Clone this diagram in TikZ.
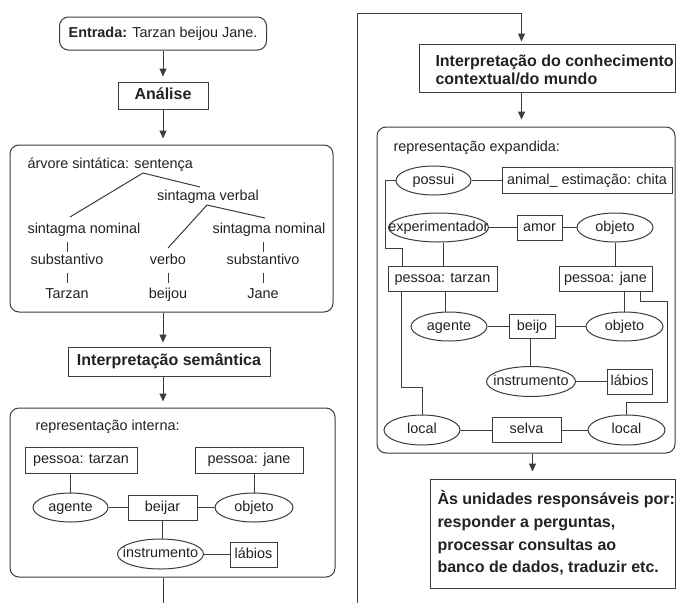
\documentclass[tikz,border=0pt]{standalone}
\usepackage{fontspec}
\setmainfont{Liberation Sans}
\usetikzlibrary{shapes.geometric,arrows.meta}
\definecolor{ln}{HTML}{3C3C3C}
\definecolor{tx}{HTML}{222222}
\newcommand\zw[1]{\makebox[0pt][c]{#1}}
\tikzset{
  lbl/.style={text=tx, font=\fontsize{14.4}{16}\selectfont, inner sep=0pt, text height=10pt, text depth=3pt},
  bx/.style={lbl, draw=ln, rectangle, minimum height=25pt},
  el/.style={lbl, draw=ln, ellipse},
  hb/.style={draw=ln, rectangle, text=tx, font=\bfseries\fontsize{16}{18}\selectfont, inner sep=0pt, text height=12pt, text depth=3.5pt},
  hdtext/.style={text=tx, inner sep=0pt, align=left},
  rb/.style={draw=ln, rounded corners=9pt, rectangle, inner sep=0pt},
  arr/.style={draw=ln, -{Triangle[length=8pt,width=7pt]}},
  cn/.style={draw=ln}
}
\begin{document}
\begin{tikzpicture}[x=1pt,y=-1pt,line width=1pt]
\fill[white] (0,0) rectangle (677,603);
\useasboundingbox (0,0) rectangle (677,603);

% ---------- left column ----------
\node[rb, lbl, minimum width=207pt, minimum height=33pt] (entrada) at (163,33.5) {\textbf{Entrada:} Tarzan beijou Jane.};
\node[hb, minimum width=90pt, minimum height=27pt] (analise) at (163,95.5) {Análise};
\draw[arr, shorten >=5pt] (entrada.south) -- (analise.north);

\node[rb, minimum width=323pt, minimum height=167pt] (tree) at (171.5,228.5) {};
\draw[arr, shorten >=6pt] (analise.south) -- (analise.south |- tree.north);

\node[lbl, anchor=west] (arv) at (27,165) {árvore sintática: sentença};
\node[lbl] (sv) at (208,197) {sintagma verbal};
\node[lbl] (snl) at (84,230) {sintagma nominal};
\node[lbl] (snr) at (269,230) {sintagma nominal};
\node[lbl] (subl) at (67,261) {substantivo};
\node[lbl] (verbo) at (168,261) {verbo};
\node[lbl] (subr) at (263,261) {substantivo};
\node[lbl] (tarzan) at (67,295) {Tarzan};
\node[lbl] (beijou) at (168,295) {beijou};
\node[lbl] (jane) at (263,295) {Jane};
\coordinate (sroot) at (143,173);
\coordinate (svroot) at (207,205);
\draw[cn] (70,217) -- (sroot) -- (200,187);
\draw[cn] (168,248) -- (svroot) -- (265,218);
\draw[cn] (67,242) -- (67,252);
\draw[cn] (67,273) -- (67,283);
\draw[cn] (168,273) -- (168,283);
\draw[cn] (263,242) -- (263,252);
\draw[cn] (263,273) -- (263,283);

\node[hb, minimum width=202pt, minimum height=29pt] (sem) at (169,361.5) {Interpretação semântica};
\draw[arr, shorten >=4pt] (tree.south -| analise) -- (sem.north -| analise);

\node[rb, minimum width=325pt, minimum height=169pt] (intbox) at (172.5,492.5) {};
\draw[arr, shorten >=6pt] (sem.south -| analise) -- (intbox.north -| analise);
\node[lbl, anchor=west] (rint) at (35,427) {representação interna:};

\node[bx, minimum width=112pt, minimum height=26pt] (pt1) at (81,460) {pessoa: tarzan};
\node[bx, minimum width=108pt, minimum height=26pt] (pj1) at (249,460) {pessoa: jane};
\node[el, minimum width=75pt, minimum height=29pt] (ag1) at (70.5,507.5) {\zw{agente}};
\node[bx, minimum width=69pt] (bj1) at (162.5,507.5) {beijar};
\node[el, minimum width=78pt, minimum height=29pt] (ob1) at (254,507.5) {\zw{objeto}};
\node[el, minimum width=86pt, minimum height=30pt] (in1) at (160.5,554) {\zw{instrumento}};
\node[bx, minimum width=47pt] (lb1) at (253.5,554.5) {lábios};
\draw[cn] (ag1.north) -- (ag1.north |- pt1.south);
\draw[cn] (ob1.north) -- (ob1.north |- pj1.south);
\draw[cn] (ag1.east) -- (bj1.west);
\draw[cn] (bj1.east) -- (ob1.west);
\draw[cn] (bj1.south) -- (bj1.south |- in1.north);
\draw[cn] (in1.east) -- (in1.east -| lb1.west);

\coordinate (offL) at (163,603);
\draw[cn] (intbox.south -| offL) -- (offL);

% ---------- right column ----------
\coordinate (offR) at (357,603);
\coordinate (topR) at (357,13);
\node[draw=ln, rectangle, inner sep=0pt, minimum width=256pt, minimum height=48pt] (ic) at (547,68) {};
\node[hdtext, anchor=west, font=\bfseries\fontsize{16}{18}\selectfont] (ictext) at (435,70) {Interpretação do conhecimento\\contextual/do mundo};
\draw[arr, shorten >=2pt] (offR) -- (topR) -| ([xshift=103pt]ic.north west);

\node[rb, minimum width=298pt, minimum height=326pt] (expbox) at (526,290) {};
\draw[arr, shorten >=7pt] ([xshift=103pt]ic.south west) -- ([xshift=103pt]ic.south west |- expbox.north);
\node[lbl, anchor=west] (rexp) at (393,148) {representação expandida:};

\node[el, minimum width=75pt, minimum height=29pt] (possui) at (433.5,180.5) {\zw{possui}};
\node[bx, minimum width=170pt, minimum height=26pt] (animal) at (587,180.5) {animal\_ estimação: chita};
\node[el, minimum width=100pt, minimum height=29pt] (exper) at (438.5,227.5) {\zw{experimentador}};
\node[bx, minimum width=45pt] (amor) at (539.5,227.5) {amor};
\node[el, minimum width=76pt, minimum height=29pt] (objA) at (615,227.5) {\zw{objeto}};
\node[bx, minimum width=109pt] (pt2) at (442.5,278.5) {pessoa: tarzan};
\node[bx, minimum width=93pt] (pj2) at (605.5,278.5) {pessoa: jane};
\node[el, minimum width=76pt, minimum height=29pt] (ag2) at (449,326.5) {\zw{agente}};
\node[bx, minimum width=46pt, minimum height=24pt] (beijo) at (532,326.5) {beijo};
\node[el, minimum width=77pt, minimum height=29pt] (objB) at (624.5,326.5) {\zw{objeto}};
\node[el, minimum width=89pt, minimum height=30pt] (ins2) at (531,381.5) {\zw{instrumento}};
\node[bx, minimum width=45pt] (lab2) at (629.5,381.5) {lábios};
\node[el, minimum width=76pt, minimum height=30pt] (locL) at (422,430) {\zw{local}};
\node[bx, minimum width=69pt] (selva) at (526.5,430) {selva};
\node[el, minimum width=77pt, minimum height=30pt] (locR) at (626.5,430) {\zw{local}};

\draw[cn] (possui.east) -- (animal.west);
\draw[cn] (possui.west) -- ++(-10,0) -- ++(0,68) -| ([xshift=-40.5pt]pt2.north);
\draw[cn] (exper.east) -- (amor.west);
\draw[cn] (amor.east) -- (objA.west);
\draw[cn] ([xshift=4.5pt]exper.south) -- ([xshift=4.5pt]exper.south |- pt2.north);
\draw[cn] (objA.south) -- (objA.south |- pj2.north);
\draw[cn] ([xshift=-4pt]ag2.north) -- ([xshift=-4pt]ag2.north |- pt2.south);
\draw[cn] (objB.north) -- (objB.north |- pj2.south);
\draw[cn] (ag2.east) -- (beijo.west);
\draw[cn] (beijo.east) -- (objB.west);
\draw[cn] ([xshift=-2pt]beijo.south) -- ([xshift=-2pt]beijo.south |- ins2.north);
\draw[cn] (ins2.east) -- (lab2.west);
\draw[cn] (locL.east) -- (selva.west);
\draw[cn] (selva.east) -- (locR.west);
\draw[cn] ([xshift=-41.5pt]pt2.south) -- ++(0,96) -| (locL.north);
\draw[cn] ([xshift=34.5pt]pj2.south) -- ++(0,10) -- ++(27,0) -- ++(0,101) -| (locR.north);

\node[draw=ln, rectangle, inner sep=0pt, minimum width=245pt, minimum height=109pt] (final) at (552.5,533.5) {};
\node[hdtext, anchor=west, font=\bfseries\fontsize{16}{22.6}\selectfont] (finaltext) at (437,533) {Às unidades responsáveis por:\\responder a perguntas,\\processar consultas ao\\banco de dados, traduzir etc.};
\draw[arr, shorten >=7pt] (expbox.south -| final.north west) ++(103,0) coordinate (fa) -- (fa |- final.north);
\end{tikzpicture}
\end{document}
